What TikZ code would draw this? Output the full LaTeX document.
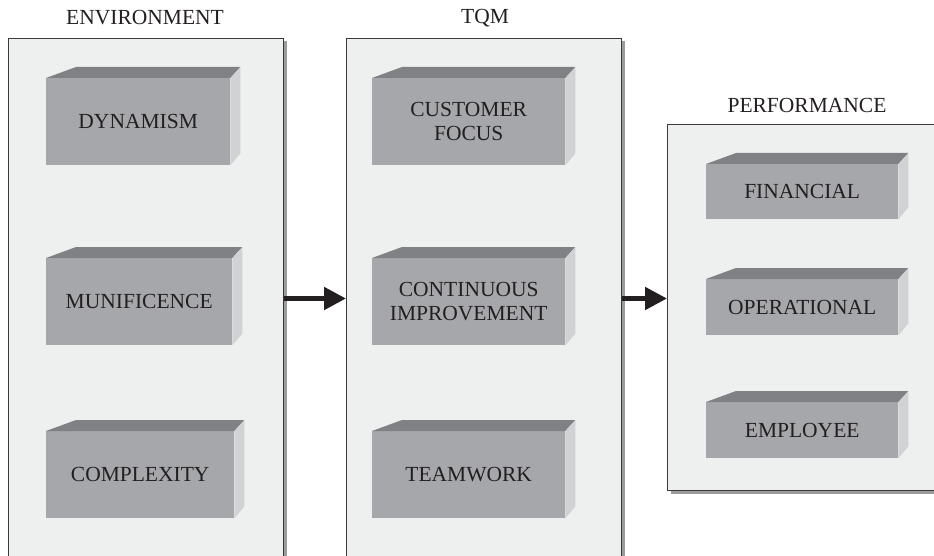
\documentclass[tikz,border=0pt]{standalone}
\usepackage{fontspec}
\setmainfont{Liberation Serif}
\usetikzlibrary{arrows.meta,calc,shadows}

\definecolor{panelfill}{HTML}{EEEFEF}
\definecolor{panelline}{HTML}{3A3A3A}
\definecolor{shadowgray}{HTML}{9B9B9B}
\definecolor{frontgray}{HTML}{A6A7AA}
\definecolor{topgray}{HTML}{808184}
\definecolor{sidegray}{HTML}{D1D2D4}
\definecolor{ink}{HTML}{231F20}

\tikzset{
  panel/.style={draw=panelline, fill=panelfill, line width=1pt, inner sep=0pt,
    anchor=north west,
    drop shadow={shadow xshift=3pt, shadow yshift=-3pt, fill=shadowgray, opacity=1}},
  paneltitle/.style={text=ink, font=\fontsize{21.5}{25}\selectfont, inner sep=0pt},
  blockface/.style={fill=frontgray, text=ink, inner sep=0pt, anchor=north west,
    align=center, font=\fontsize{21.5}{24.5}\selectfont},
  topface/.style={fill=topgray},
  sideface/.style={fill=sidegray},
  flow/.style={draw=ink, line width=5pt,
    -{Triangle[length=22pt, width=22pt]}},
}

% A shaded block: front face as a node, with its top and right faces
% #1 name, #2 front top-left corner, #3 width, #4 height, #5 text
\newcommand{\shadedblock}[5]{%
  \node[blockface, minimum width=#3pt, minimum height=#4pt] (#1) at (#2) {#5};
  \fill[topface] (#1.north west) -- ++(30,-11) -- ($(#1.north east)+(10,-11)$)
    -- (#1.north east) -- cycle;
  \fill[sideface] (#1.north east) -- ++(10,-11) -- ($(#1.south east)+(10,-12)$)
    -- (#1.south east) -- cycle;
}

\begin{document}
\begin{tikzpicture}[x=1pt, y=-1pt]
  \useasboundingbox (0,0) rectangle (934,556);
  \clip (0,0) rectangle (934,556);

  % panels
  \node[panel, minimum width=275pt, minimum height=520pt] (env) at (8,38) {};
  \node[panel, minimum width=275pt, minimum height=520pt] (tqm) at (346,38) {};
  \node[panel, minimum width=276pt, minimum height=366pt] (perf) at (667,124) {};

  % panel titles
  \node[paneltitle] (envtitle) at (145,18) {ENVIRONMENT};
  \node[paneltitle] (tqmtitle) at (485,18) {TQM};
  \node[paneltitle] (perftitle) at (807,105) {PERFORMANCE};

  % environment dimensions
  \shadedblock{dyn}{46,78}{184}{87}{DYNAMISM}
  \shadedblock{mun}{46,258}{186}{87}{MUNIFICENCE}
  \shadedblock{cpx}{46,431}{188}{87}{COMPLEXITY}

  % TQM practices
  \shadedblock{cust}{372,78}{193}{87}{CUSTOMER\\FOCUS}
  \shadedblock{cont}{372,258}{193}{87}{CONTINUOUS\\IMPROVEMENT}
  \shadedblock{team}{372,431}{193}{87}{TEAMWORK}

  % performance measures
  \shadedblock{fin}{706,164}{192}{55}{FINANCIAL}
  \shadedblock{oper}{706,279}{192}{56}{OPERATIONAL}
  \shadedblock{emp}{706,402}{192}{56}{EMPLOYEE}

  % links between the panels
  \draw[flow] (env.east) -- (tqm.west);
  \draw[flow] (tqm.east) -- (perf.west |- tqm.east);
\end{tikzpicture}
\end{document}
